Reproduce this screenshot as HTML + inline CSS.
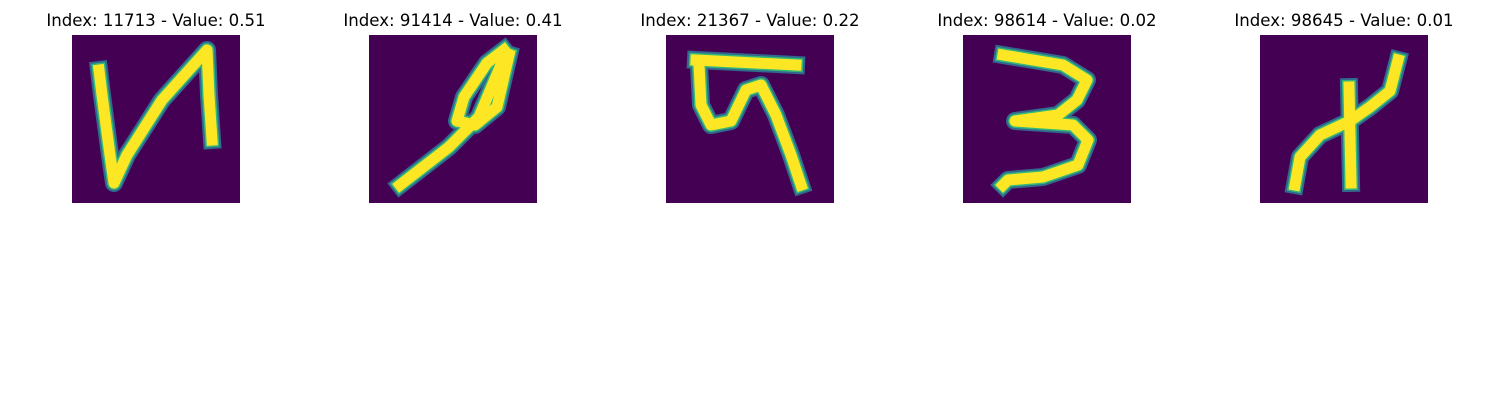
<!DOCTYPE html>
<html><head><meta charset="utf-8"><style>
body{margin:0;width:1500px;height:400px;background:#fff;font-family:"DejaVu Sans","Liberation Sans",sans-serif;position:relative;overflow:hidden}
.t{position:absolute;top:11px;font-size:16.6px;color:#000;text-align:center;width:300px;white-space:nowrap}
svg{position:absolute;top:35px}
</style></head><body>
<div id="root"></div>
<script>
const titles=["Index: 11713 - Value: 0.51","Index: 91414 - Value: 0.41","Index: 21367 - Value: 0.22","Index: 98614 - Value: 0.02","Index: 98645 - Value: 0.01"];
const lefts=[72,369,666,963,1260];
const strokes=[
 [[[27,35],[30,60],[38,120],[42,148],[55,120],[90,65],[135,15],[137,60],[140,105]]],
 [[[31,150],[80,112],[110,82],[137,18]],[[135,15],[118,28],[95,62],[88,86],[106,90],[128,72],[140,20]]],
 [[[30,25],[130,30]],[[33,30],[35,70],[45,90],[65,86],[80,55],[95,50],[110,80],[125,120],[135,150]]],
 [[[40,20],[100,30],[124,45],[114,65],[95,80],[52,86],[110,90],[125,105],[115,130],[80,142],[45,145],[40,150]]],
 [[[35,150],[40,122],[60,100],[90,86],[110,72],[130,56],[138,25]],[[89,52],[91,148]]]
];
const root=document.getElementById('root');
const NS='http://www.w3.org/2000/svg';
titles.forEach((t,i)=>{
 const d=document.createElement('div');d.className='t';d.textContent=t;
 d.style.left=(lefts[i]+84-150)+'px';
 
 
 root.appendChild(d);
 const s=document.createElementNS(NS,'svg');
 s.setAttribute('width',168);s.setAttribute('height',168);
 s.style.left=lefts[i]+'px';
 
 
 const bg=document.createElementNS(NS,'rect');
 bg.setAttribute('width',168);bg.setAttribute('height',168);bg.setAttribute('fill','#440154');
 s.appendChild(bg);
 [[18,'#31688e'],[14,'#35b779'],[11,'#fde725']].forEach(([w,c])=>{
  strokes[i].forEach(pts=>{
   const p=document.createElementNS(NS,'polyline');
   p.setAttribute('points',pts.map(q=>q.join(',')).join(' '));
   p.setAttribute('fill','none');p.setAttribute('stroke',c);p.setAttribute('stroke-width',w);
   p.setAttribute('stroke-linejoin','round');p.setAttribute('stroke-linecap','square');
   
   
   s.appendChild(p);
  });
 });
 root.appendChild(s);
});
</script>
</body></html>
